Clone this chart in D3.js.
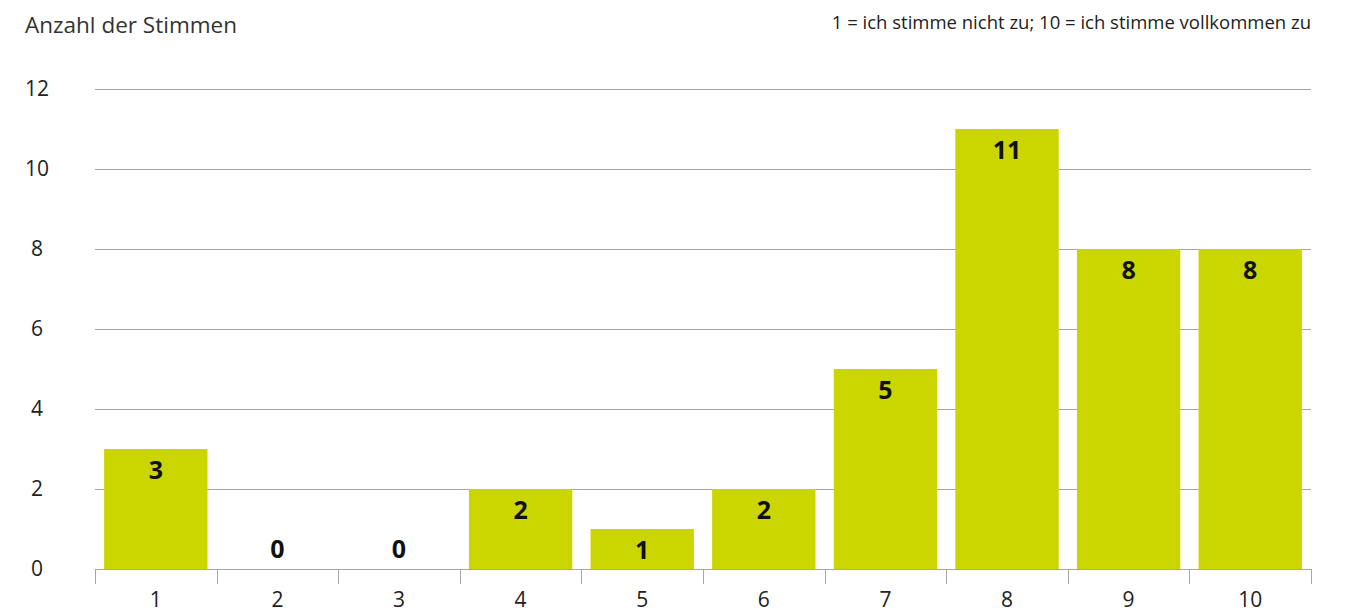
<!DOCTYPE html>
<html>
<head>
<meta charset="utf-8">
<script src="https://cdn.jsdelivr.net/npm/d3@7"></script>
<style>
  html, body { margin: 0; padding: 0; background: #fff; }
  svg { display: block; font-family: "Open Sans", sans-serif; }
</style>
</head>
<body>
<svg id="chart" width="1352" height="612"></svg>
<script>
// Antwortskala und Anzahl der Stimmen je Stufe
const categories = ["1", "2", "3", "4", "5", "6", "7", "8", "9", "10"];
const votes = [3, 0, 0, 2, 1, 2, 5, 11, 8, 8];
const yTicks = [0, 2, 4, 6, 8, 10, 12];
const title = "Anzahl der Stimmen";
const scaleNote = "1 = ich stimme nicht zu; 10 = ich stimme vollkommen zu";

const svg = d3.select("#chart");
const margin = { left: 95, right: 41, top: 89, bottom: 43 };
const W = 1352, H = 612;

const x = d3.scaleBand()
  .domain(categories)
  .range([margin.left, W - margin.right])
  .paddingInner(0.15)
  .paddingOuter(0.075);

const y = d3.scaleLinear()
  .domain([0, 12])
  .range([H - margin.bottom, margin.top]);

// Horizontale Gitterlinien
svg.append("g")
  .selectAll("line")
  .data(yTicks.filter(d => d > 0))
  .join("line")
  .attr("x1", margin.left)
  .attr("x2", W - margin.right)
  .attr("y1", d => y(d) + 0.5)
  .attr("y2", d => y(d) + 0.5)
  .attr("stroke", "#a6a6a6")
  .attr("stroke-width", 1);

// Y-Achse (nur Beschriftung)
const yAxis = d3.axisLeft(y).tickValues(yTicks).tickSize(0).tickPadding(0);
const gy = svg.append("g")
  .attr("transform", `translate(37,0)`)
  .call(yAxis);
gy.select(".domain").remove();
gy.selectAll("text")
  .attr("text-anchor", "middle")
  .attr("font-size", 21)
  .attr("font-family", "Open Sans, sans-serif")
  .attr("fill", "#222");

// Balken
svg.append("g")
  .selectAll("rect")
  .data(votes)
  .join("rect")
  .attr("x", (d, i) => x(categories[i]))
  .attr("width", x.bandwidth())
  .attr("y", d => y(d))
  .attr("height", d => y(0) - y(d))
  .attr("fill", "#cbd600");

// X-Achse mit Trennstrichen zwischen den Kategorien
const base = y(0);
svg.append("line")
  .attr("x1", margin.left).attr("x2", W - margin.right)
  .attr("y1", base + 0.5).attr("y2", base + 0.5)
  .attr("stroke", "#a6a6a6");

const step = x.step();
const boundaries = d3.range(categories.length + 1).map(i => margin.left + i * step);
svg.append("g")
  .selectAll("line")
  .data(boundaries)
  .join("line")
  .attr("x1", d => Math.round(d) + 0.5)
  .attr("x2", d => Math.round(d) + 0.5)
  .attr("y1", base)
  .attr("y2", base + 15)
  .attr("stroke", "#a6a6a6");

svg.append("g")
  .selectAll("text")
  .data(categories)
  .join("text")
  .attr("x", d => x(d) + x.bandwidth() / 2)
  .attr("y", base + 38)
  .attr("text-anchor", "middle")
  .attr("font-size", 21)
  .attr("fill", "#222")
  .text(d => d);

// Wertebeschriftung an den Balken
svg.append("g")
  .selectAll("text")
  .data(votes)
  .join("text")
  .attr("x", (d, i) => x(categories[i]) + x.bandwidth() / 2)
  .attr("y", d => d === 0 ? y(0) - 11 : y(d) + 30)
  .attr("text-anchor", "middle")
  .attr("font-size", 25)
  .attr("font-weight", "bold")
  .attr("fill", "#111")
  .text(d => d);

// Titel und Skalenhinweis
svg.append("text")
  .attr("x", 25).attr("y", 33)
  .attr("font-size", 22.5)
  .attr("fill", "#333")
  .text(title);

svg.append("text")
  .attr("x", W - margin.right).attr("y", 29)
  .attr("text-anchor", "end")
  .attr("font-size", 18.5)
  .attr("fill", "#222")
  .text(scaleNote);
</script>
</body>
</html>
